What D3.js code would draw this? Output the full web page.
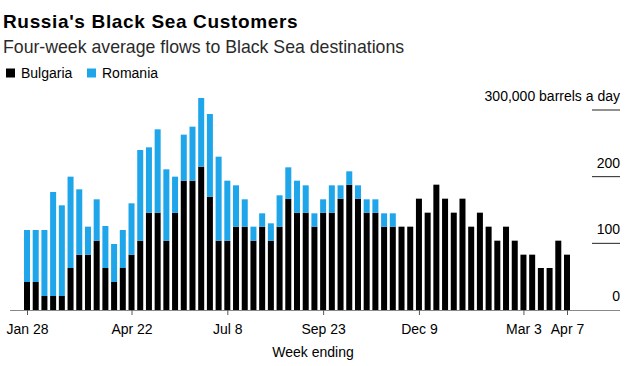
<!DOCTYPE html>
<html>
<head>
<meta charset="utf-8">
<script src="https://cdn.jsdelivr.net/npm/d3@7"></script>
<style>
  html, body { margin: 0; padding: 0; background: #fff; }
  svg { display: block; font-family: "Liberation Sans", Arial, Helvetica, sans-serif; }
</style>
</head>
<body>
<svg id="chart" width="632" height="366"></svg>
<script>
// ---- Data (thousand barrels a day, four-week average) ----
const weekEnding = [
  "2018-01-28","2018-02-04","2018-02-11","2018-02-18","2018-02-25","2018-03-04","2018-03-11","2018-03-18",
  "2018-03-25","2018-04-01","2018-04-08","2018-04-15","2018-04-22","2018-04-29","2018-05-06","2018-05-13",
  "2018-05-20","2018-05-27","2018-06-03","2018-06-10","2018-06-17","2018-06-24","2018-07-01","2018-07-08",
  "2018-07-15","2018-07-22","2018-07-29","2018-08-05","2018-08-12","2018-08-19","2018-08-26","2018-09-02",
  "2018-09-09","2018-09-16","2018-09-23","2018-09-30","2018-10-07","2018-10-14","2018-10-21","2018-10-28",
  "2018-11-04","2018-11-11","2018-11-18","2018-11-25","2018-12-02","2018-12-09","2018-12-16","2018-12-23",
  "2018-12-30","2019-01-06","2019-01-13","2019-01-20","2019-01-27","2019-02-03","2019-02-10","2019-02-17",
  "2019-02-24","2019-03-03","2019-03-10","2019-03-17","2019-03-24","2019-03-31","2019-04-07"
];
const bulgaria = [
  42, 42, 21, 21, 21, 63, 83, 83, 104, 63, 42, 63, 83, 104, 146, 146,
  104, 146, 194, 194, 215, 170, 104, 104, 125, 125, 104, 125, 104, 125, 167, 146,
  146, 125, 146, 146, 167, 188, 167, 146, 146, 125, 125, 125, 125, 167, 146, 188,
  167, 146, 167, 125, 146, 125, 104, 125, 104, 83, 83, 63, 63, 104, 83
];
const romania = [
  78, 78, 99, 156, 136, 137, 98, 42, 62, 63, 57, 57, 77, 136, 98, 125,
  107, 54, 69, 81, 103, 124, 126, 90, 62, 41, 21, 20, 26, 47, 47, 48,
  41, 20, 20, 41, 20, 20, 20, 20, 20, 20, 20, 0, 0, 0, 0, 0,
  0, 0, 0, 0, 0, 0, 0, 0, 0, 0, 0, 0, 0, 0, 0
];
const seriesNames = ["Bulgaria", "Romania"];
const seriesColors = ["#000000", "#1ea5ea"];
const xTickDates = ["2018-01-28","2018-04-22","2018-07-08","2018-09-23","2018-12-09","2019-03-03","2019-04-07"];
const xTickLabels = ["Jan 28","Apr 22","Jul 8","Sep 23","Dec 9","Mar 3","Apr 7"];
const yTickValues = [0, 100, 200, 300];
const yTickLabels = ["0", "100", "200", "300,000 barrels a day"];

// ---- Build ----
const parse = d3.utcParse("%Y-%m-%d");
const rows = weekEnding.map((d, i) => ({ date: parse(d), Bulgaria: bulgaria[i], Romania: romania[i] }));
const stacked = d3.stack().keys(seriesNames)(rows);

const svg = d3.select("#chart");
const x = d3.scaleUtc().domain([parse(weekEnding[0]), parse(weekEnding[weekEnding.length - 1])]).range([27, 567]);
const y = d3.scaleLinear().domain([0, 300]).range([310, 110]);
const barW = 6;

// Title, subtitle
svg.append("text").attr("x", 3).attr("y", 28).attr("font-size", 19).attr("font-weight", "bold")
  .attr("letter-spacing", 0.65).attr("fill", "#000").text("Russia's Black Sea Customers");
svg.append("text").attr("x", 3).attr("y", 53).attr("font-size", 17.7).attr("fill", "#2a2a2a")
  .text("Four-week average flows to Black Sea destinations");

// Legend
const legend = svg.append("g");
const legX = [6, 87];
seriesNames.forEach((name, i) => {
  legend.append("rect").attr("x", legX[i]).attr("y", 68.5).attr("width", 9).attr("height", 9).attr("fill", seriesColors[i]);
  legend.append("text").attr("x", legX[i] + 15).attr("y", 78).attr("font-size", 14).attr("fill", "#000").text(name);
});

// Bars
svg.append("g").selectAll("g").data(stacked).join("g")
  .attr("fill", (d, i) => seriesColors[i])
  .selectAll("rect").data(d => d.filter(p => p[1] - p[0] > 0)).join("rect")
  .attr("x", d => x(d.data.date) - barW / 2)
  .attr("width", barW)
  .attr("y", d => y(d[1]))
  .attr("height", d => y(d[0]) - y(d[1]));

// Y axis (right side labels with short lines)
const yAxis = svg.append("g");
yTickValues.forEach((v, i) => {
  if (v > 0) {
    yAxis.append("line").attr("x1", 592).attr("x2", 620).attr("y1", y(v)).attr("y2", y(v))
      .attr("stroke", "#222").attr("stroke-width", 1);
  }
  yAxis.append("text").attr("x", 620).attr("y", y(v) - 9).attr("text-anchor", "end")
    .attr("font-size", 14).attr("fill", "#000").text(yTickLabels[i]);
});

// X axis
const xAxis = d3.axisBottom(x)
  .tickValues(xTickDates.map(parse))
  .tickFormat((d, i) => xTickLabels[i])
  .tickSize(5).tickSizeOuter(0).tickPadding(9);
const gx = svg.append("g").attr("transform", "translate(0,310)").call(xAxis);
gx.select(".domain").remove();
gx.insert("line", ":first-child").attr("x1", 10).attr("x2", 620).attr("y1", 0.5).attr("y2", 0.5)
  .attr("stroke", "#888").attr("stroke-width", 1.2);
gx.selectAll(".tick line").attr("stroke", "#555");
gx.selectAll(".tick text").attr("font-size", 14).attr("fill", "#000")
  .attr("font-family", "'Liberation Sans', Arial, sans-serif");

svg.append("text").attr("x", 313).attr("y", 357).attr("text-anchor", "middle")
  .attr("font-size", 14).attr("fill", "#000").text("Week ending");
</script>
</body>
</html>
